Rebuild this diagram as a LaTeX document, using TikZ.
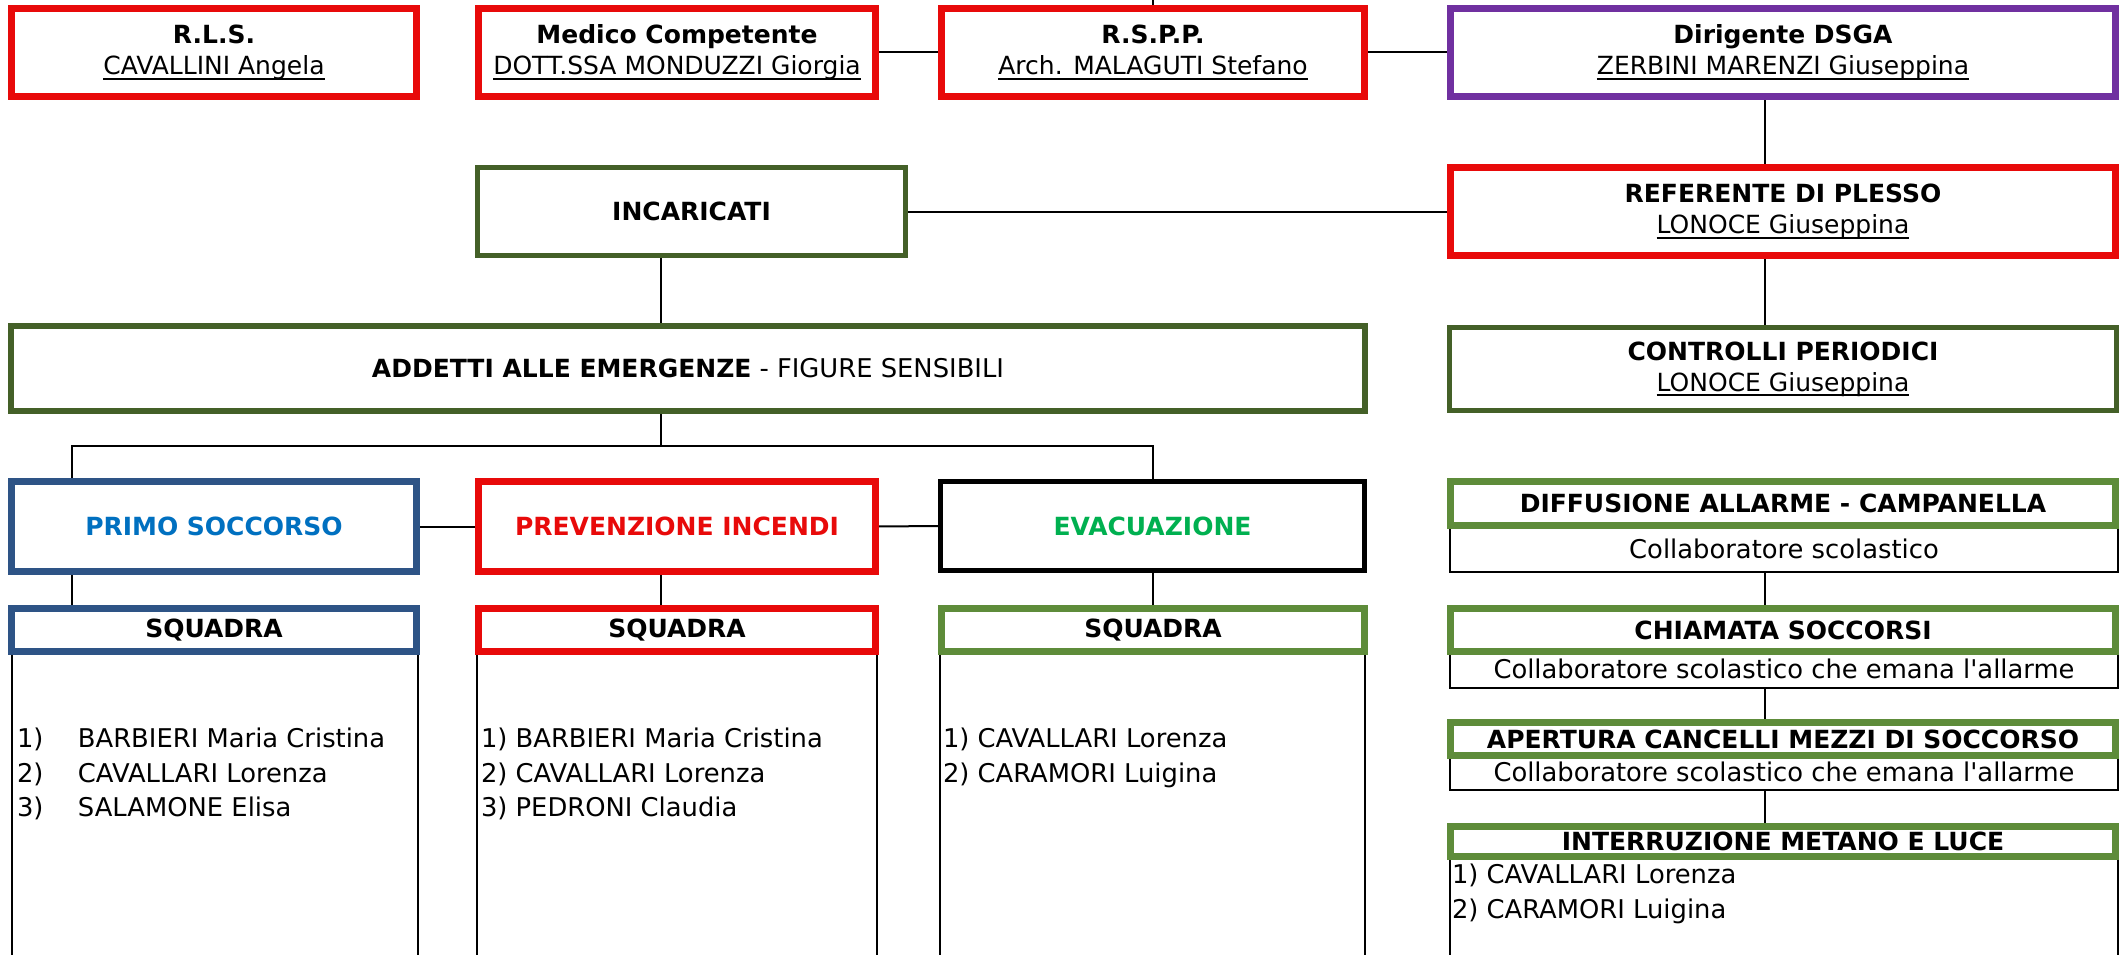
\documentclass[tikz,border=0pt]{standalone}
\usepackage{fontspec}
\setmainfont{DejaVu Sans}
\usetikzlibrary{backgrounds}
\definecolor{redc}{RGB}{232,10,10}
\definecolor{purplec}{RGB}{112,48,160}
\definecolor{darkg}{RGB}{68,96,40}
\definecolor{midg}{RGB}{94,140,58}
\definecolor{bluef}{RGB}{46,84,134}
\definecolor{bluet}{RGB}{0,112,192}
\definecolor{greent}{RGB}{0,176,80}
\newcommand{\fs}{\fontsize{25}{31}\selectfont}
\newcommand{\rg}{\fontsize{25.8}{31}\selectfont}
\newsavebox{\ulbox}
\newcommand{\ulx}[1]{\sbox{\ulbox}{#1}\rlap{\rule[-5pt]{\wd\ulbox}{1.8pt}}\usebox{\ulbox}}
\begin{document}
\begin{tikzpicture}[x=1pt,y=-1pt,
  every node/.style={inner sep=0pt, outer sep=0pt, font=\fs},
  box/.style={draw, rectangle, fill=white, align=center},
  redbox/.style={box, draw=redc, line width=7pt},
  purplebox/.style={box, draw=purplec, line width=7pt},
  dgbox/.style={box, draw=darkg, line width=5pt},
  bluebox/.style={box, draw=bluef, line width=7pt},
  mgbox/.style={box, draw=midg, line width=7pt},
  blackbox/.style={box, draw=black, line width=5pt},
  thinbox/.style={box, draw=black, line width=2pt, font=\rg},
  item/.style={anchor=base west, font=\rg},
  link/.style={draw=black, line width=2pt}]
\useasboundingbox (0,0) rectangle (2120,955);
\clip (0,0) rectangle (2120,955);
% top row
\node[redbox, minimum width=405, minimum height=88] (rls) at (214,52.5) {\textbf{R.L.S.}\\\ulx{CAVALLINI Angela}};
\node[redbox, minimum width=397, minimum height=88] (medico) at (677,52.5) {\textbf{Medico Competente}\\\ulx{DOTT.SSA MONDUZZI Giorgia}};
\node[redbox, minimum width=423, minimum height=88] (rspp) at (1153,52.5) {\textbf{R.S.P.P.}\\\ulx{Arch. MALAGUTI Stefano}};
\node[purplebox, minimum width=665, minimum height=88] (dsga) at (1783,52.5) {\textbf{Dirigente DSGA}\\\ulx{ZERBINI MARENZI Giuseppina}};
% second row
\node[dgbox, minimum width=428, minimum height=88] (incaricati) at (691.5,211.5) {\textbf{INCARICATI}};
\node[redbox, minimum width=665, minimum height=88] (referente) at (1783,211.5) {\textbf{REFERENTE DI PLESSO}\\\ulx{LONOCE Giuseppina}};
% third row
\node[dgbox, line width=6pt, minimum width=1354, minimum height=85] (addetti) at (688,368.5) {\textbf{ADDETTI ALLE EMERGENZE} {\rg - FIGURE SENSIBILI}};
\node[dgbox, minimum width=667, minimum height=83] (controlli) at (1783,369) {\textbf{CONTROLLI PERIODICI}\\\ulx{LONOCE Giuseppina}};
% fourth row
\node[bluebox, minimum width=405, minimum height=90] (primo) at (214,526.5) {\textcolor{bluet}{\textbf{PRIMO SOCCORSO}}};
\node[redbox, minimum width=397, minimum height=90] (prev) at (677,526.5) {\textcolor{redc}{\textbf{PREVENZIONE INCENDI}}};
\node[blackbox, minimum width=424, minimum height=89] (evac) at (1152.5,526) {\textcolor{greent}{\textbf{EVACUAZIONE}}};
\node[thinbox, minimum width=668, minimum height=47] (diffb) at (1784,548.5) {Collaboratore scolastico};
\node[mgbox, minimum width=665, minimum height=44] (diffh) at (1783,503.5) {\textbf{DIFFUSIONE ALLARME - CAMPANELLA}};
% squadre
\node[thinbox, minimum width=406.5, minimum height=348] (sq1b) at (214.75,826) {};
\node[thinbox, minimum width=400, minimum height=348] (sq2b) at (677,826) {};
\node[thinbox, minimum width=425, minimum height=348] (sq3b) at (1152.5,826) {};
\node[bluebox, minimum width=405, minimum height=43] (sq1) at (214,630) {\textbf{SQUADRA}};
\node[redbox, minimum width=397, minimum height=43] (sq2) at (677,630) {\textbf{SQUADRA}};
\node[mgbox, minimum width=423, minimum height=43] (sq3) at (1153,630) {\textbf{SQUADRA}};
\node[item] (l11) at (17,747) {\makebox[61pt][l]{1)}BARBIERI Maria Cristina};
\node[item] (l12) at (17,782) {\makebox[61pt][l]{2)}CAVALLARI Lorenza};
\node[item] (l13) at (17,816) {\makebox[61pt][l]{3)}SALAMONE Elisa};
\node[item] (l21) at (481,747) {1) BARBIERI Maria Cristina};
\node[item] (l22) at (481,782) {2) CAVALLARI Lorenza};
\node[item] (l23) at (481,816) {3) PEDRONI Claudia};
\node[item] (l31) at (943,747) {1) CAVALLARI Lorenza};
\node[item] (l32) at (943,782) {2) CARAMORI Luigina};
% right column
\node[thinbox, minimum width=668, minimum height=38] (chiamb) at (1784,669) {Collaboratore scolastico che emana l\textquotesingle allarme};
\node[mgbox, minimum width=665, minimum height=43] (chiamh) at (1783,630) {\textbf{CHIAMATA SOCCORSI}};
\node[thinbox, minimum width=668, minimum height=35] (aperb) at (1784,772) {Collaboratore scolastico che emana l\textquotesingle allarme};
\node[mgbox, minimum width=665, minimum height=33] (aperh) at (1783,739) {\textbf{APERTURA CANCELLI MEZZI DI SOCCORSO}};
\node[thinbox, minimum width=668, minimum height=145] (interb) at (1784,927.5) {};
\node[mgbox, minimum width=665, minimum height=30] (interh) at (1783,841.5) {\textbf{INTERRUZIONE METANO E LUCE}};
\node[item] (l41) at (1452,883) {1) CAVALLARI Lorenza};
\node[item] (l42) at (1452,918) {2) CARAMORI Luigina};
% connectors
\coordinate (ax1) at (72,446);
\coordinate (ax2) at (1153,446);
\coordinate (mid) at (661,446);
\coordinate (spine) at (1765,0);
\coordinate (topend) at (1153,0);
\begin{scope}[on background layer]
\fill[white] (0,0) rectangle (2120,955);
\draw[link] (medico.east) -- (rspp.west);
\draw[link] (rspp.east) -- (dsga.west);
\draw[link] (rspp.north) -- (topend);
\draw[link] (dsga.south -| spine) -- (referente.north -| spine);
\draw[link] (incaricati.east) -- (referente.west);
\draw[link] (incaricati.south -| mid) -- (addetti.north -| mid);
\draw[link] (addetti.south -| mid) -- (mid);
\draw[link] (primo.north -| ax1) -- (ax1) -- (ax2) -- (evac.north -| ax2);
\draw[link] (primo.east) -- (prev.west);
\draw[link] (prev.east) -- (evac.west);
\draw[link] (primo.south -| ax1) -- (sq1.north -| ax1);
\draw[link] (prev.south -| mid) -- (sq2.north -| mid);
\draw[link] (evac.south -| ax2) -- (sq3.north -| ax2);
\draw[link] (referente.south -| spine) -- (controlli.north -| spine);
\draw[link] (diffb.south -| spine) -- (chiamh.north -| spine);
\draw[link] (chiamb.south -| spine) -- (aperh.north -| spine);
\draw[link] (aperb.south -| spine) -- (interh.north -| spine);
\end{scope}
\end{tikzpicture}
\end{document}
